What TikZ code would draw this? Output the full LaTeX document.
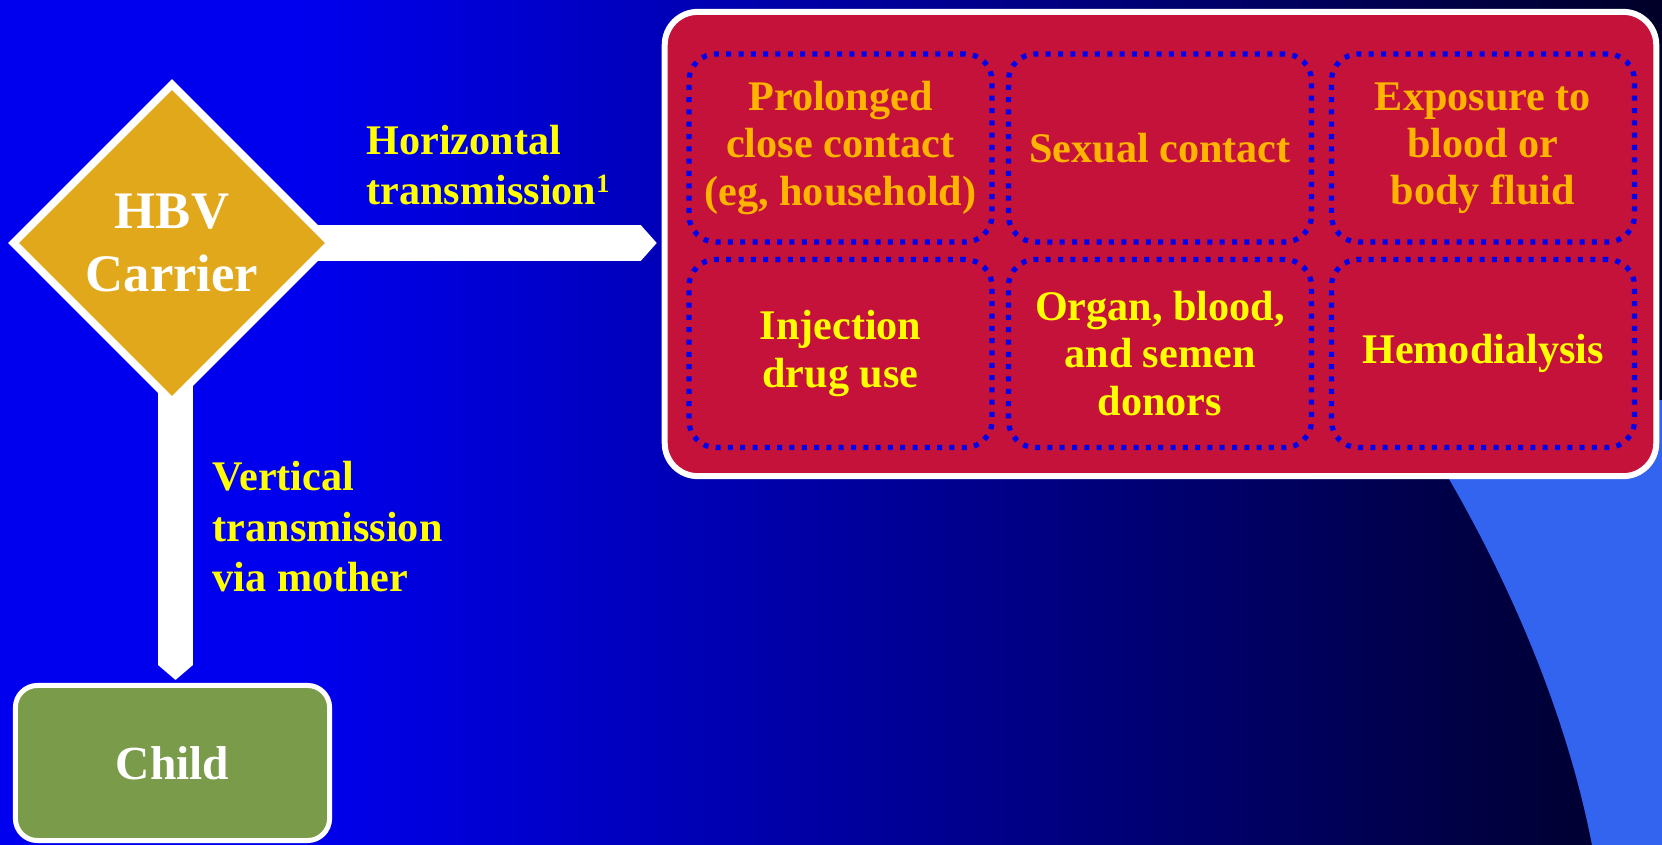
\documentclass[tikz,border=0pt]{standalone}
\usepackage{fontspec}
\setmainfont{Liberation Serif}
\usetikzlibrary{positioning,shapes.geometric,arrows.meta,backgrounds}

\definecolor{slideblue}{RGB}{0,0,238}
\definecolor{slidenavy}{RGB}{0,0,40}
\definecolor{swooshblue}{RGB}{50,100,240}
\definecolor{routered}{RGB}{196,18,58}
\definecolor{carriergold}{RGB}{224,168,26}
\definecolor{childgreen}{RGB}{122,156,74}
\definecolor{textorange}{RGB}{255,180,0}
\definecolor{textyellow}{RGB}{255,255,0}
\definecolor{dotblue}{RGB}{0,0,240}

\tikzset{
  carrier/.style={shape=diamond, aspect=1, draw=white, line width=0.075cm, fill=carriergold,
    minimum width=3.2cm, minimum height=3.2cm, inner sep=0pt, align=center, text=white,
    font=\fontsize{15}{17.9}\selectfont\bfseries},
  group/.style={draw=white, line width=0.06cm, fill=routered, rounded corners=0.33cm,
    minimum width=9.91cm, minimum height=4.64cm},
  route/.style={draw=dotblue, line width=0.052cm, dash pattern=on 0.05cm off 0.073cm,
    rounded corners=0.27cm, minimum width=3.03cm, minimum height=1.88cm, inner sep=0pt,
    align=center, font=\fontsize{12}{13.4}\selectfont\bfseries},
  childbox/.style={draw=white, line width=0.05cm, fill=childgreen, rounded corners=0.22cm,
    minimum width=3.14cm, minimum height=1.55cm, text=white,
    font=\fontsize{13.5}{16}\selectfont\bfseries},
  pathtext/.style={inner sep=0pt, align=left, text=textyellow,
    font=\fontsize{12}{14.3}\selectfont\bfseries},
  pipe/.style={draw=white, line width=0.36cm,
    -{Triangle[width=0.36cm, length=0.16cm, line width=0pt]}}
}

\begin{document}
\begin{tikzpicture}[x=0.01cm, y=-0.01cm]
\useasboundingbox (0,0) rectangle (1662,845);

% Backdrop
\begin{scope}[on background layer]
\fill [slideblue] (0,0) rectangle (301,845);
\shade [left color=slideblue, right color=slidenavy] (300,0) rectangle (1662,845);
\fill [swooshblue] (1662,400) -- (1400,400) .. controls (1480,520) and (1560,680) .. (1592,845) -- (1662,845) -- cycle;
\end{scope}

% Carrier
\node (hbv) [carrier] at (172,243) {HBV\\Carrier};

% Routes of horizontal transmission
\node (routes) [group] at (1160.5,244) {};
\node (contact)   [route, text=textorange] at ( 840.5,148) {Prolonged\\close contact\\(eg, household)};
\node (sexual)    [route, text=textorange] at (1160.0,148) {Sexual contact};
\node (exposure)  [route, text=textorange] at (1483.0,148) {Exposure to\\blood or\\body fluid};
\node (injection) [route, text=textyellow] at ( 840.5,353.5) {Injection\\drug use};
\node (donors)    [route, text=textyellow] at (1160.0,353.5) {Organ, blood,\\and semen\\donors};
\node (dialysis)  [route, text=textyellow] at (1483.0,353.5) {Hemodialysis};

% Child
\node (child) [childbox] at (172.5,763) {Child};

% Labels
\node (horiz) [pathtext, above right=0.37cm and 0.3cm of hbv.east] {Horizontal\\transmission{\fontsize{7.5}{7.5}\selectfont\raisebox{3.4pt}{1}}};
\node (vert)  [pathtext, anchor=north west] at (212,461) {Vertical\\transmission\\via mother};

% Connections
\begin{scope}[on background layer]
\draw [pipe, shorten >=0.05cm] (hbv.center) -- (hbv.center -| routes.west);
\draw [pipe, -{Triangle[width=0.35cm, length=0.15cm, line width=0pt]}, line width=0.35cm, shorten >=0.03cm]
  ([xshift=0.035cm]hbv.center) -- ([xshift=0.035cm]hbv.center |- child.north);
\end{scope}

\end{tikzpicture}
\end{document}
